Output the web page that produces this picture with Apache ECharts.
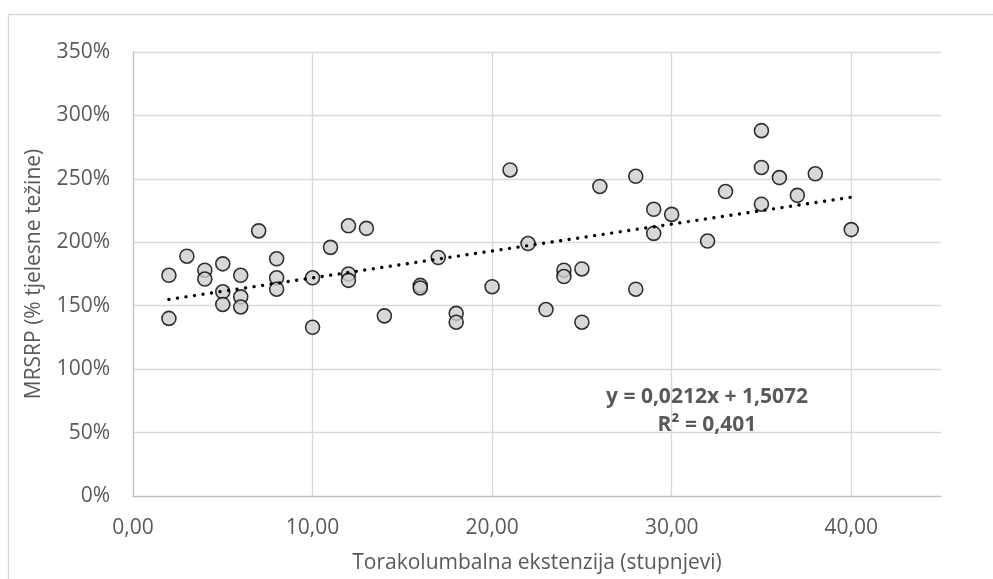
<!DOCTYPE html>
<html>
<head>
<meta charset="utf-8">
<script src="https://cdn.jsdelivr.net/npm/echarts@6/dist/echarts.min.js"></script>
<style>
html,body{margin:0;padding:0;background:#fff;}
#chart{width:993px;height:579px;}
</style>
</head>
<body>
<div id="chart"></div>
<script>
// Torakolumbalna ekstenzija (stupnjevi)
var xValues = [2, 2, 3, 4, 4, 5, 5, 5, 6, 6, 6, 7, 8, 8, 8, 10, 10, 11, 12, 12, 12, 13, 14, 16, 16, 17, 18, 18, 20, 21, 22, 23, 24, 24, 25, 25, 26, 28, 28, 29, 29, 30, 32, 33, 35, 35, 35, 36, 37, 38, 40];
// MRSRP (% tjelesne težine), as fraction
var yValues = [1.74, 1.40, 1.89, 1.78, 1.71, 1.83, 1.61, 1.51, 1.74, 1.57, 1.49, 2.09, 1.87, 1.72, 1.63, 1.72, 1.33, 1.96, 2.13, 1.75, 1.70, 2.11, 1.42, 1.66, 1.64, 1.88, 1.44, 1.37, 1.65, 2.57, 1.99, 1.47, 1.78, 1.73, 1.79, 1.37, 2.44, 2.52, 1.63, 2.26, 2.07, 2.22, 2.01, 2.40, 2.88, 2.59, 2.30, 2.51, 2.37, 2.54, 2.10];
// linear trendline as printed on the chart
var trendSlope = 0.0212;
var trendIntercept = 1.5072;
var trendLabel = ['y = 0,0212x + 1,5072', 'R² = 0,401'];
var xTitle = 'Torakolumbalna ekstenzija (stupnjevi)';
var yTitle = 'MRSRP (% tjelesne težine)';

var points = xValues.map(function (x, i) { return [x, yValues[i]]; });
var xMin = Math.min.apply(null, xValues), xMax = Math.max.apply(null, xValues);
var trend = [[xMin, trendIntercept + trendSlope * xMin], [xMax, trendIntercept + trendSlope * xMax]];

var FONT = '"Open Sans", sans-serif';
var TXT = '#595959';
var chart = echarts.init(document.getElementById('chart'), null, {renderer: 'canvas'});
chart.setOption({
  animation: false,
  backgroundColor: '#ffffff',
  grid: {left: 133, top: 52, right: 52, bottom: 72, containLabel: false},
  xAxis: {
    type: 'value', min: 0, max: 45, interval: 10,
    name: xTitle, nameLocation: 'middle', nameGap: 57,
    nameTextStyle: {color: TXT, fontFamily: FONT, fontSize: 21},
    axisLine: {show: true, lineStyle: {color: '#bfbfbf', width: 1.3}},
    axisTick: {show: false},
    axisLabel: {color: TXT, fontFamily: FONT, fontSize: 21, margin: 22, showMaxLabel: false,
      formatter: function (v) { return v.toFixed(2).replace('.', ','); }},
    splitLine: {show: true, showMinLine: false, showMaxLine: false, lineStyle: {color: '#d9d9d9', width: 1.3}}
  },
  yAxis: {
    type: 'value', min: 0, max: 3.5, interval: 0.5,
    name: yTitle, nameLocation: 'middle', nameGap: 88, nameRotate: 90,
    nameTextStyle: {color: TXT, fontFamily: FONT, fontSize: 21},
    axisLine: {show: true, lineStyle: {color: '#bfbfbf', width: 1.3}},
    axisTick: {show: false},
    axisLabel: {color: TXT, fontFamily: FONT, fontSize: 21, margin: 23,
      formatter: function (v) { return Math.round(v * 100) + '%'; }},
    splitLine: {show: true, showMinLine: false, lineStyle: {color: '#d9d9d9', width: 1.3}}
  },
  series: [
    {
      type: 'scatter', data: points, symbol: 'circle', symbolSize: 14, z: 2,
      itemStyle: {color: '#d0cece', borderColor: '#000000', borderWidth: 1.6}
    },
    {
      type: 'line', data: trend, showSymbol: false, symbol: 'none', z: 3, silent: true,
      lineStyle: {color: '#000000', width: 3.4, type: [0.01, 8.6], cap: 'round'}
    }
  ],
  graphic: [
    {type: 'rect', silent: true, z: -10,
      shape: {x: 8.5, y: 14.5, width: 1000, height: 600},
      style: {fill: 'none', stroke: '#d9d9d9', lineWidth: 1.3}},
    {type: 'text', x: 707, y: 397, silent: true, z: 10,
      style: {text: trendLabel[0], fill: TXT, font: 'bold 21px ' + FONT, textAlign: 'center', textVerticalAlign: 'middle'}},
    {type: 'text', x: 707, y: 425, silent: true, z: 10,
      style: {text: trendLabel[1], fill: TXT, font: 'bold 21px ' + FONT, textAlign: 'center', textVerticalAlign: 'middle'}}
  ]
});
</script>
</body>
</html>
